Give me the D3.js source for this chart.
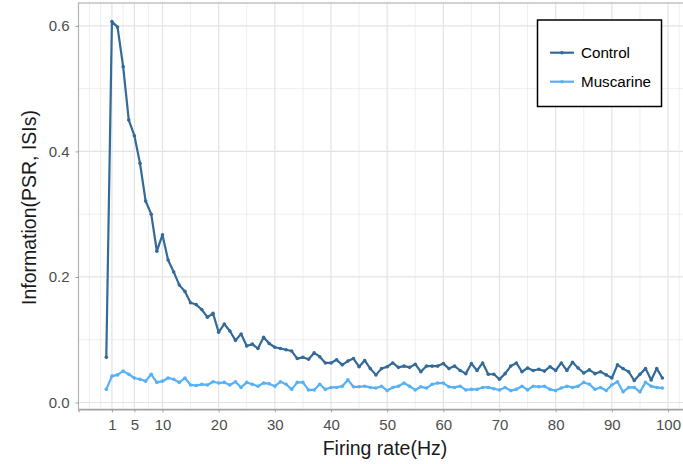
<!DOCTYPE html>
<html><head><meta charset="utf-8">
<script src="https://cdn.jsdelivr.net/npm/d3@7"></script>
<style>body{margin:0;background:#fff}svg{display:block}</style>
</head><body>
<script>
const rates = d3.range(0, 100);
const control = [0.072,0.607,0.598,0.535,0.450,0.425,0.381,0.321,0.300,0.241,
0.267,0.227,0.208,0.187,0.177,0.159,0.156,0.148,0.136,0.142,
0.112,0.125,0.114,0.099,0.109,0.090,0.093,0.086,0.104,0.094,
0.088,0.086,0.084,0.082,0.070,0.072,0.069,0.079,0.073,0.063,
0.063,0.068,0.060,0.066,0.070,0.057,0.067,0.054,0.044,0.054,
0.057,0.063,0.056,0.058,0.056,0.061,0.049,0.058,0.058,0.058,
0.062,0.054,0.058,0.051,0.046,0.062,0.051,0.063,0.045,0.045,
0.037,0.046,0.058,0.063,0.049,0.055,0.051,0.053,0.050,0.057,
0.051,0.063,0.051,0.064,0.055,0.047,0.052,0.046,0.049,0.044,
0.039,0.060,0.054,0.049,0.035,0.045,0.054,0.036,0.054,0.039];
const muscarine = [0.021,0.042,0.044,0.050,0.045,0.039,0.037,0.034,0.045,0.032,
0.034,0.039,0.037,0.032,0.039,0.028,0.027,0.029,0.028,0.033,
0.031,0.032,0.028,0.033,0.024,0.032,0.029,0.026,0.031,0.030,
0.026,0.033,0.029,0.021,0.032,0.032,0.020,0.020,0.029,0.021,
0.024,0.024,0.026,0.036,0.025,0.025,0.026,0.024,0.023,0.026,
0.019,0.024,0.026,0.031,0.026,0.020,0.025,0.023,0.029,0.031,
0.031,0.025,0.024,0.026,0.020,0.021,0.021,0.024,0.024,0.022,
0.020,0.024,0.019,0.021,0.026,0.020,0.026,0.025,0.026,0.021,
0.019,0.023,0.026,0.024,0.026,0.032,0.029,0.021,0.024,0.019,
0.028,0.033,0.017,0.024,0.024,0.017,0.032,0.026,0.024,0.023];
const xTicks = [1,5,10,20,30,40,50,60,70,80,90,100];
const xMinor = [-3,-1,3,7.5,15,25,35,45,55,65,75,85,95,102];
const yTicks = [0,0.2,0.4,0.6];
const yMinor = [0.1,0.3,0.5];
const seriesNames = ["Control","Muscarine"];
const seriesColors = ["#336A98","#56B1F7"];

const W = 683, H = 464;
const svg = d3.select("body").append("svg").attr("width", W).attr("height", H);
const font = "Liberation Sans, Arial, sans-serif";

const xMinV = -4.95, xMaxV = 103.95;
const x = d3.scaleLinear().domain([xMinV, xMaxV]).range([78.5, 690.2]);
const yLo = 0.0186 - 0.05*(0.607-0.0186), yHi = 0.607 + 0.05*(0.607-0.0186);
const y = d3.scaleLinear().domain([yLo, yHi]).range([409.3, 3]);

const L = x(xMinV), R = x(xMaxV), T = y(yHi), B = y(yLo);
const g = svg.append("g");

// grid
g.selectAll(".xminor").data(xMinor).join("line")
  .attr("x1", d=>x(d)).attr("x2", d=>x(d)).attr("y1", T).attr("y2", B)
  .attr("stroke", "#ebebeb").attr("stroke-width", 0.8);
g.selectAll(".yminor").data(yMinor).join("line")
  .attr("y1", d=>y(d)).attr("y2", d=>y(d)).attr("x1", L).attr("x2", R)
  .attr("stroke", "#ebebeb").attr("stroke-width", 0.8);
g.selectAll(".xmajor").data(xTicks).join("line")
  .attr("x1", d=>x(d)).attr("x2", d=>x(d)).attr("y1", T).attr("y2", B)
  .attr("stroke", "#e3e3e3").attr("stroke-width", 1.2);
g.selectAll(".ymajor").data(yTicks).join("line")
  .attr("y1", d=>y(d)).attr("y2", d=>y(d)).attr("x1", L).attr("x2", R)
  .attr("stroke", "#e3e3e3").attr("stroke-width", 1.2);

// panel border
g.append("rect").attr("x", L).attr("y", T).attr("width", R-L).attr("height", B-T)
  .attr("fill", "none").attr("stroke", "#b3b3b3").attr("stroke-width", 1.2);

// axes
const xAxis = d3.axisBottom(x).tickValues(xTicks).tickSize(3).tickPadding(7.5).tickFormat(d3.format("d"));
const ax = svg.append("g").attr("transform", `translate(0,${B})`).call(xAxis);
ax.select(".domain").attr("stroke", "#9e9e9e").attr("stroke-width", 1.2);
ax.selectAll(".tick line").attr("stroke", "#9e9e9e");
ax.selectAll("text").attr("font-family", font).attr("font-size", 15).attr("fill", "#4d4d4d");

const yAxis = d3.axisLeft(y).tickValues(yTicks).tickSize(3).tickPadding(6).tickFormat(d3.format(".1f"));
const ay = svg.append("g").attr("transform", `translate(${L},0)`).call(yAxis);
ay.select(".domain").remove();
ay.selectAll(".tick line").attr("stroke", "#9e9e9e");
ay.selectAll("text").attr("font-family", font).attr("font-size", 15).attr("fill", "#4d4d4d");

// titles
svg.append("text").attr("x", 385).attr("y", 455).attr("text-anchor", "middle")
  .attr("font-family", font).attr("font-size", 19.5).attr("fill", "#1a1a1a").text("Firing rate(Hz)");
svg.append("text").attr("transform", "translate(36,207.5) rotate(-90)").attr("text-anchor", "middle")
  .attr("font-family", font).attr("font-size", 19.5).attr("fill", "#1a1a1a").text("Information(PSR, ISIs)");

// series
const series = [control, muscarine];
const line = d3.line().x((d,i)=>x(rates[i])).y(d=>y(d));
series.slice().reverse().forEach((s, k) => {
  const idx = series.length - 1 - k;
  const c = seriesColors[idx];
  svg.append("path").datum(s).attr("d", line).attr("fill", "none")
    .attr("stroke", c).attr("stroke-width", 2.2).attr("stroke-linejoin", "round");
  svg.append("g").selectAll("circle").data(s).join("circle")
    .attr("cx", (d,i)=>x(rates[i])).attr("cy", d=>y(d)).attr("r", 1.8).attr("fill", c);
});

// legend
const lg = svg.append("g");
lg.append("rect").attr("x", 537.5).attr("y", 20).attr("width", 124).attr("height", 86.5)
  .attr("fill", "#fff").attr("stroke", "#000").attr("stroke-width", 1.5);
seriesNames.forEach((n, i) => {
  const yy = 52.7 + i*29;
  lg.append("line").attr("x1", 550).attr("x2", 574).attr("y1", yy).attr("y2", yy)
    .attr("stroke", seriesColors[i]).attr("stroke-width", 2.2);
  lg.append("circle").attr("cx", 562).attr("cy", yy).attr("r", 1.8).attr("fill", seriesColors[i]);
  lg.append("text").attr("x", 581).attr("y", yy + 5).attr("font-family", font)
    .attr("font-size", 15.2).attr("fill", "#000").text(n);
});
</script>
</body></html>
